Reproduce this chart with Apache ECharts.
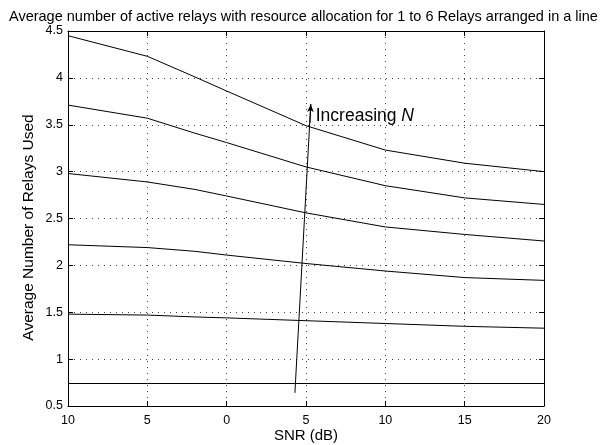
<!DOCTYPE html>
<html>
<head>
<meta charset="utf-8">
<script src="https://cdn.jsdelivr.net/npm/echarts@6/dist/echarts.min.js"></script>
<style>
  html, body { margin: 0; padding: 0; background: #fff; }
  #main { width: 603px; height: 445px; }
</style>
</head>
<body>
<div id="main"></div>
<script>
// SNR points (dB)
var snr = [-10, -5, -2, 0, 5, 10, 15, 20];

// average relays used, one curve per N (1..6)
var relays1 = [0.74, 0.74, 0.74, 0.74, 0.74, 0.74, 0.74, 0.74];
var relays2 = [1.48, 1.47, 1.45, 1.44, 1.41, 1.38, 1.35, 1.33];
var relays3 = [2.22, 2.19, 2.15, 2.11, 2.02, 1.94, 1.87, 1.84];
var relays4 = [2.98, 2.89, 2.81, 2.74, 2.56, 2.41, 2.33, 2.26];
var relays5 = [3.71, 3.57, 3.41, 3.31, 3.05, 2.85, 2.72, 2.65];
var relays6 = [4.45, 4.23, 4.01, 3.86, 3.49, 3.23, 3.09, 3.00];

var curves = [relays1, relays2, relays3, relays4, relays5, relays6];

// "Increasing N" arrow
var arrowFrom = [4.3, 0.64];
var arrowTo = [5.3, 3.72];

var font = '"Liberation Sans", Arial, Helvetica, sans-serif';

var chart = echarts.init(document.getElementById('main'));

var series = curves.map(function (vals, i) {
  return {
    name: 'N=' + (i + 1),
    type: 'line',
    data: snr.map(function (s, j) { return [s, vals[j]]; }),
    showSymbol: false,
    symbol: 'none',
    lineStyle: { color: '#000', width: 1 },
    silent: true,
    z: 3
  };
});

series.push({
  name: 'arrow',
  type: 'line',
  data: [arrowFrom, arrowTo],
  symbol: 'none',
  lineStyle: { color: '#000', width: 1 },
  silent: true,
  z: 4,
  markLine: {
    silent: true,
    symbol: ['none', 'arrow'],
    symbolSize: [5, 8],
    label: { show: false },
    lineStyle: { color: '#000', width: 1, type: 'solid' },
    data: [[{ coord: [arrowTo[0] - 0.05, arrowTo[1] - 0.2] }, { coord: arrowTo }]]
  },
  markPoint: {
    silent: true,
    symbol: 'circle',
    symbolSize: 0,
    label: {
      show: true,
      position: 'right',
      offset: [0, 12],
      rich: {
        n: { fontFamily: font, fontSize: 17.5, fontStyle: 'italic', color: '#000' },
        t: { fontFamily: font, fontSize: 17.5, color: '#000' }
      },
      formatter: '{t|Increasing }{n|N}'
    },
    data: [{ coord: arrowTo }]
  }
});

chart.setOption({
  animation: false,
  backgroundColor: '#fff',
  title: {
    text: 'Average number of active relays with resource allocation for 1 to 6 Relays arranged in a line',
    left: 4,
    top: 4,
    textStyle: { fontFamily: font, fontSize: 14.5, fontWeight: 'normal', color: '#000' }
  },
  grid: { left: 68, right: 59, top: 31, bottom: 39, containLabel: false, outerBoundsMode: 'none' },
  xAxis: [{
    type: 'value',
    min: -10,
    max: 20,
    interval: 5,
    name: 'SNR (dB)',
    nameLocation: 'middle',
    nameGap: 22,
    nameMoveOverlap: false,
    nameTextStyle: { fontFamily: font, fontSize: 15, color: '#000' },
    axisLine: { show: true, onZero: false, lineStyle: { color: '#000', width: 1 } },
    axisTick: { show: true, inside: true, length: 5, lineStyle: { color: '#000' } },
    axisLabel: {
      fontFamily: font, fontSize: 12.5, color: '#000', margin: 8,
      formatter: function (v) { return String(Math.abs(v)); }
    },
    splitLine: { show: true, lineStyle: { color: '#444', type: [1, 5], width: 1 } }
  }, {
    type: 'value',
    position: 'top',
    min: -10,
    max: 20,
    interval: 5,
    axisLine: { show: true, onZero: false, lineStyle: { color: '#000', width: 1 } },
    axisTick: { show: true, inside: true, length: 5, lineStyle: { color: '#000' } },
    axisLabel: { show: false },
    splitLine: { show: false }
  }],
  yAxis: [{
    type: 'value',
    min: 0.5,
    max: 4.5,
    interval: 0.5,
    name: 'Average Number of Relays Used',
    nameLocation: 'middle',
    nameGap: 31,
    nameMoveOverlap: false,
    nameTextStyle: { fontFamily: font, fontSize: 15.5, color: '#000', padding: [0, 18, 0, 0] },
    axisLine: { show: true, onZero: false, lineStyle: { color: '#000', width: 1 } },
    axisTick: { show: true, inside: true, length: 5, lineStyle: { color: '#000' } },
    axisLabel: { fontFamily: font, fontSize: 12.5, color: '#000', margin: 5 },
    splitLine: { show: true, lineStyle: { color: '#444', type: [1, 5], width: 1 } }
  }, {
    type: 'value',
    position: 'right',
    min: 0.5,
    max: 4.5,
    interval: 0.5,
    axisLine: { show: true, onZero: false, lineStyle: { color: '#000', width: 1 } },
    axisTick: { show: true, inside: true, length: 5, lineStyle: { color: '#000' } },
    axisLabel: { show: false },
    splitLine: { show: false }
  }],
  series: series
});
</script>
</body>
</html>
